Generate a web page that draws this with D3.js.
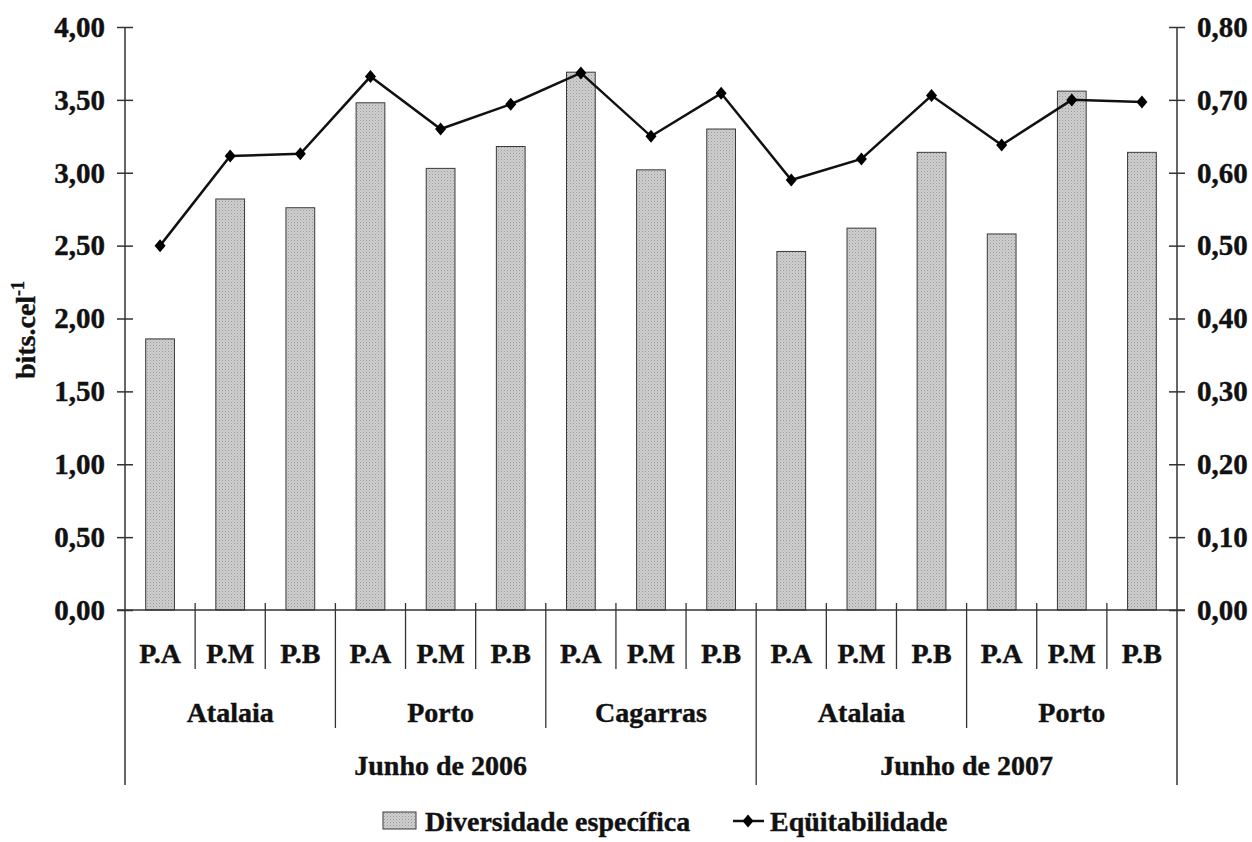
<!DOCTYPE html>
<html>
<head>
<meta charset="utf-8">
<script src="https://cdn.jsdelivr.net/npm/d3@7"></script>
<style>
  html, body { margin: 0; padding: 0; background: #fff; }
  svg text { font-family: "Liberation Serif", Tinos, "Times New Roman", Times, serif; font-weight: 700; fill: #111; stroke: #111; stroke-width: 0.4px; }
</style>
</head>
<body>
<svg id="chart" width="1252" height="842"></svg>
<script>
// Sampling points (sub-category of each bar)
const points = ["P.A","P.M","P.B","P.A","P.M","P.B","P.A","P.M","P.B","P.A","P.M","P.B","P.A","P.M","P.B"];
// Stations spanning three points each
const stations = ["Atalaia","Porto","Cagarras","Atalaia","Porto"];
// Campaigns: label and number of stations
const campaigns = ["Junho de 2006","Junho de 2007"];
const campaignStations = [3, 2];
// Species diversity (bits.cel-1), left axis
const diversity = [1.86, 2.82, 2.76, 3.48, 3.03, 3.18, 3.69, 3.02, 3.30, 2.46, 2.62, 3.14, 2.58, 3.56, 3.14];
// Evenness, right axis
const evenness = [0.50, 0.623, 0.626, 0.732, 0.660, 0.694, 0.737, 0.650, 0.709, 0.590, 0.619, 0.706, 0.638, 0.700, 0.697];
// Tick values
const leftTicks = [0, 0.5, 1, 1.5, 2, 2.5, 3, 3.5, 4];
const rightTicks = [0, 0.1, 0.2, 0.3, 0.4, 0.5, 0.6, 0.7, 0.8];

const svg = d3.select("#chart");
const plotLeft = 125, plotRight = 1177, plotTop = 27, plotBottom = 610;
const fmt = v => d3.format(".2f")(v).replace(".", ",");

const x = d3.scaleBand().domain(d3.range(points.length)).range([plotLeft, plotRight]).padding(0);
const yL = d3.scaleLinear().domain([0, 4]).range([plotBottom, plotTop]);
const yR = d3.scaleLinear().domain([0, 0.8]).range([plotBottom, plotTop]);

// dotted gray fill for the bars
const defs = svg.append("defs");
const pat = defs.append("pattern").attr("id", "dots").attr("patternUnits", "userSpaceOnUse")
  .attr("width", 3).attr("height", 3);
pat.append("rect").attr("width", 3).attr("height", 3).attr("fill", "#cfcfcf");
pat.append("rect").attr("x", 0).attr("y", 0).attr("width", 1).attr("height", 1).attr("fill", "#999");
pat.append("rect").attr("x", 1.5).attr("y", 1.5).attr("width", 1).attr("height", 1).attr("fill", "#adadad");

const axisColor = "#333";
const bw = x.bandwidth() * 0.41;

// bars
svg.append("g").selectAll("rect").data(diversity).join("rect")
  .attr("x", (d, i) => x(i) + (x.bandwidth() - bw) / 2)
  .attr("y", d => yL(d))
  .attr("width", bw)
  .attr("height", d => plotBottom - yL(d))
  .attr("fill", "url(#dots)")
  .attr("stroke", "#3a3a3a")
  .attr("stroke-width", 1);

// left axis
const gL = svg.append("g").attr("transform", `translate(${plotLeft},0)`)
  .call(d3.axisLeft(yL).tickValues(leftTicks).tickFormat(fmt).tickSize(8).tickPadding(12));
gL.selectAll(".tick line").attr("x2", 8).attr("x1", -8);
// right axis
const gR = svg.append("g").attr("transform", `translate(${plotRight},0)`)
  .call(d3.axisRight(yR).tickValues(rightTicks).tickFormat(fmt).tickSize(8).tickPadding(12));
gR.selectAll(".tick line").attr("x1", -8).attr("x2", 8);
[gL, gR].forEach(g => {
  g.attr("font-family", null);
  g.select(".domain").remove();
  g.selectAll(".tick line").attr("stroke", axisColor).attr("stroke-width", 1.5);
  g.selectAll(".tick text").attr("font-size", 29).attr("fill", "#111");
});

// vertical axis lines extending into the category table
svg.append("line").attr("x1", plotLeft).attr("x2", plotLeft).attr("y1", plotTop).attr("y2", 785)
  .attr("stroke", axisColor).attr("stroke-width", 1.5);
svg.append("line").attr("x1", plotRight).attr("x2", plotRight).attr("y1", plotTop).attr("y2", 785)
  .attr("stroke", axisColor).attr("stroke-width", 1.5);
// zero line
svg.append("line").attr("x1", plotLeft - 8).attr("x2", plotRight + 8).attr("y1", plotBottom).attr("y2", plotBottom)
  .attr("stroke", axisColor).attr("stroke-width", 1.5);

// category separators: point / station / campaign levels
const sep = svg.append("g").attr("stroke", axisColor).attr("stroke-width", 1.3);
const stationEnds = new Set([3, 6, 9, 12]);
const campaignEnds = new Set([9]);
for (let i = 1; i < points.length; i++) {
  const xs = x(i);
  let y2 = 669;
  if (stationEnds.has(i)) y2 = 728;
  if (campaignEnds.has(i)) y2 = 785;
  sep.append("line").attr("x1", xs).attr("x2", xs).attr("y1", 603).attr("y2", y2);
}

// category labels
svg.append("g").selectAll("text").data(points).join("text")
  .attr("x", (d, i) => x(i) + x.bandwidth() / 2).attr("y", 663)
  .attr("text-anchor", "middle").attr("font-size", 28).text(d => d);
svg.append("g").selectAll("text").data(stations).join("text")
  .attr("x", (d, i) => x(i * 3) + x.bandwidth() * 1.5).attr("y", 722)
  .attr("text-anchor", "middle").attr("font-size", 28).text(d => d);
let start = 0;
campaigns.forEach((c, k) => {
  const n = campaignStations[k] * 3;
  const cx = (x(start) + x(start + n - 1) + x.bandwidth()) / 2;
  svg.append("text").attr("x", cx).attr("y", 775).attr("text-anchor", "middle")
    .attr("font-size", 28).text(c);
  start += n;
});

// evenness line
const diamond = "M0,-6.5L5.5,0L0,6.5L-5.5,0Z";
svg.append("path").datum(evenness)
  .attr("fill", "none").attr("stroke", "#111").attr("stroke-width", 2.5)
  .attr("d", d3.line().x((d, i) => x(i) + x.bandwidth() / 2).y(d => yR(d)));
svg.append("g").selectAll("path").data(evenness).join("path")
  .attr("d", diamond).attr("fill", "#000")
  .attr("transform", (d, i) => `translate(${x(i) + x.bandwidth() / 2},${yR(d)})`);

// y title
const yt = svg.append("text").attr("transform", "translate(35,330) rotate(-90)")
  .attr("text-anchor", "middle").attr("font-size", 28);
yt.append("tspan").text("bits.cel");
yt.append("tspan").attr("font-size", 18).attr("dy", -11).text("-1");

// legend
const lg = svg.append("g");
lg.append("rect").attr("x", 383).attr("y", 812).attr("width", 33).attr("height", 17)
  .attr("fill", "url(#dots)").attr("stroke", "#3a3a3a").attr("stroke-width", 1);
lg.append("text").attr("x", 425).attr("y", 831).attr("font-size", 28).text("Diversidade específica");
lg.append("line").attr("x1", 733).attr("x2", 764).attr("y1", 821).attr("y2", 821)
  .attr("stroke", "#111").attr("stroke-width", 2.5);
lg.append("path").attr("d", diamond).attr("transform", "translate(748,821)").attr("fill", "#000");
lg.append("text").attr("x", 770).attr("y", 831).attr("font-size", 28).text("Eqüitabilidade");
</script>
</body>
</html>
